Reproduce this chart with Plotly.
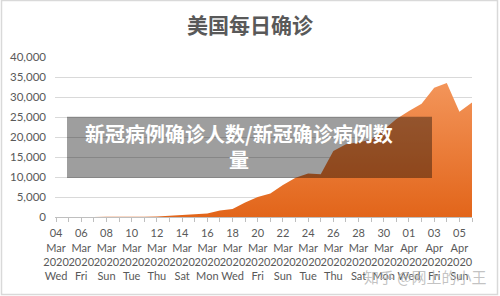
import pandas as pd
import plotly.graph_objects as go

# ---- data ----
dates = pd.date_range("2020-03-04", "2020-04-06", freq="D")
daily_cases = [10, 20, 20, 30, 40, 50, 60, 80, 120, 300, 500, 700, 900, 1600,
               2000, 3600, 5000, 5900, 8000, 9800, 10900, 10700, 16500, 18200,
               18700, 19300, 21800, 24500, 26500, 28300, 32300, 33500, 26300, 28600]
tick_dates = dates[::2]
tick_labels = [f"{d:%d}<br>{d:%b}<br>{d:%Y}<br>{d:%a}" for d in tick_dates]
y_ticks = [0, 5000, 10000, 15000, 20000, 25000, 30000, 35000, 40000]

title_text = "美国每日确诊"
overlay_text = "新冠病例确诊人数/新冠确诊病例数<br>量"
watermark = "知乎 @网上的小王"

# ---- layout geometry (pixels) ----
W, H = 500, 296
L, R, T, B = 55, 472, 57, 217


def px_x(p):
    return (p - L) / (R - L)


def px_y(p):
    return (B - p) / (B - T)


TXT = "#595959"
FONT = "Lato, 'Noto Sans CJK SC', sans-serif"

fig = go.Figure()
fig.add_trace(go.Scatter(
    x=dates, y=daily_cases, mode="none", fill="tozeroy",
    fillgradient=dict(type="vertical",
                      colorscale=[[0, "#E2651A"], [1, "#F3955A"]]),
    hoverinfo="skip", showlegend=False,
))

fig.update_layout(
    width=W, height=H,
    margin=dict(l=L, r=W - R, t=T, b=H - B, autoexpand=False),
    paper_bgcolor="white", plot_bgcolor="white",
    font=dict(family=FONT, color=TXT, size=11.5),
    title=dict(text=title_text, x=0.5, xref="container", xanchor="center",
               y=1 - 26 / H, yref="container", yanchor="middle",
               font=dict(family="'Noto Sans CJK SC', sans-serif", size=21,
                         color=TXT, weight=700)),
    xaxis=dict(
        type="date",
        range=[dates[0] - pd.Timedelta(hours=2), dates[-1]],
        tickvals=list(tick_dates), ticktext=tick_labels,
        tickfont=dict(size=11, color=TXT), tickangle=0,
        ticklabelstandoff=2,
        showgrid=False, zeroline=False,
        showline=True, linecolor="#BFBFBF", linewidth=1,
        ticks="outside", ticklen=4, tickcolor="#BFBFBF",
        minor=dict(ticks="outside", dtick=86400000, ticklen=4,
                   tickcolor="#BFBFBF", showgrid=False),
        automargin=False,
    ),
    yaxis=dict(
        range=[0, 40000], tickvals=y_ticks, tickformat=",",
        tickfont=dict(size=11.5, color=TXT),
        showgrid=True, gridcolor="#D9D9D9", gridwidth=1,
        zeroline=False, showline=False, ticks="", ticklabelstandoff=8,
        automargin=False,
    ),
)

# outer frame
fig.add_shape(type="rect", xref="paper", yref="paper",
              x0=px_x(1.5), x1=px_x(497.5), y0=px_y(294.5), y1=px_y(0.5),
              line=dict(color="#D9D9D9", width=1.5), fillcolor="rgba(0,0,0,0)",
              layer="below")

# dark translucent banner
fig.add_shape(type="rect", xref="paper", yref="paper",
              x0=px_x(67), x1=px_x(432), y0=px_y(178), y1=px_y(116.7),
              line=dict(width=0), fillcolor="rgba(0,0,0,0.38)", layer="above")

fig.add_annotation(text=overlay_text, xref="paper", yref="paper",
                   x=px_x(239), y=px_y(146.5), xanchor="center", yanchor="middle",
                   showarrow=False, align="center",
                   font=dict(family="'Noto Sans CJK SC', sans-serif", size=20,
                             color="white", weight=700))

fig.add_annotation(text=watermark, xref="paper", yref="paper",
                   x=px_x(425), y=px_y(276), xanchor="center", yanchor="middle",
                   showarrow=False,
                   font=dict(family="'Noto Sans CJK SC', sans-serif", size=15,
                             color="rgba(185,185,185,0.85)"))

fig.write_html("out.html")
